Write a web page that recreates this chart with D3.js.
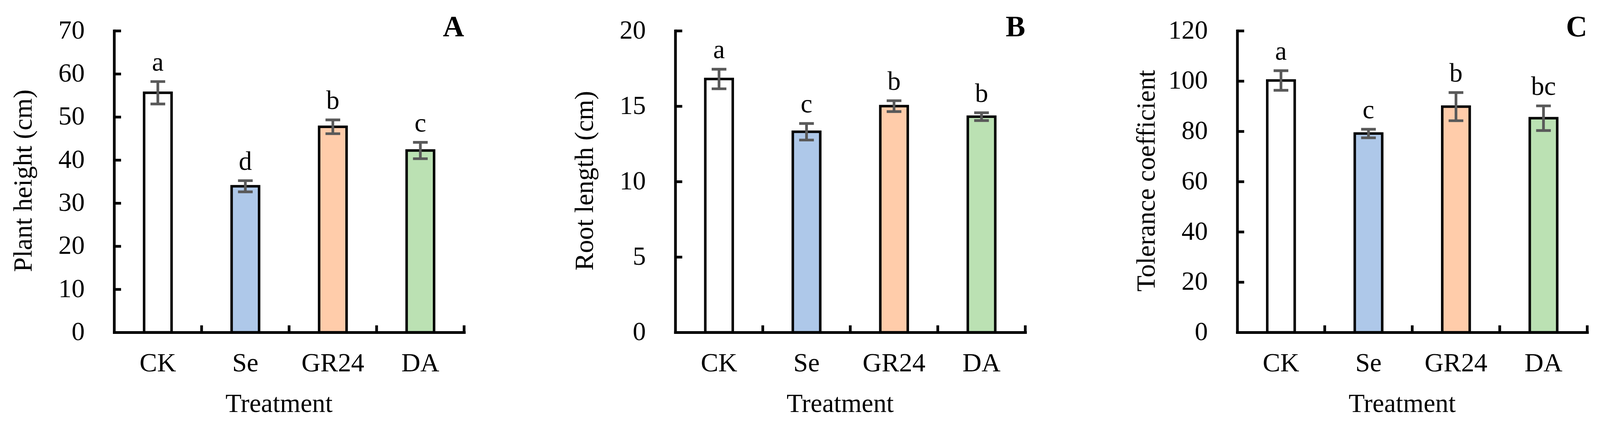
<!DOCTYPE html>
<html>
<head>
<meta charset="utf-8">
<style>
html, body { margin: 0; padding: 0; width: 100%; height: 100%; overflow: hidden; background: #fff; }
svg { display: block; background: #fff; }
text { font-family: "Liberation Serif", "Times New Roman", serif; fill: #000; }
.tick text { font-size: 68px; }
.title { font-size: 68px; }
.sig { font-size: 68px; text-anchor: middle; }
.panel-label { font-size: 76px; font-weight: bold; text-anchor: end; }
.axis path, .axis line { stroke: #000; stroke-width: 7; }
</style>
<script src="https://d3js.org/d3.v7.min.js"></script>
</head>
<body>
<svg viewBox="0 0 4137 1096" width="100%" height="100%" preserveAspectRatio="xMidYMid meet"></svg>
<script>
// treatments
var categories = ["CK", "Se", "GR24", "DA"];
var barColors = ["#ffffff", "#aec8e9", "#ffccaa", "#bbe1b3"];

// A: plant height (cm)
var heightMean = [55.6, 33.9, 47.7, 42.2];
var heightSE = [2.6, 1.3, 1.6, 1.9];
var heightSig = ["a", "d", "b", "c"];
var heightTicks = [0, 10, 20, 30, 40, 50, 60, 70];

// B: root length (cm)
var rootMean = [16.8, 13.3, 15.0, 14.3];
var rootSE = [0.65, 0.55, 0.36, 0.26];
var rootSig = ["a", "c", "b", "b"];
var rootTicks = [0, 5, 10, 15, 20];

// C: tolerance coefficient
var tolMean = [100.2, 79.1, 89.8, 85.2];
var tolSE = [3.9, 1.7, 5.6, 4.9];
var tolSig = ["a", "c", "b", "bc"];
var tolTicks = [0, 20, 40, 60, 80, 100, 120];

var panels = [
  {label: "A", ytitle: "Plant height (cm)", mean: heightMean, se: heightSE, sig: heightSig, ticks: heightTicks, left: 295},
  {label: "B", ytitle: "Root length (cm)", mean: rootMean, se: rootSE, sig: rootSig, ticks: rootTicks, left: 1746},
  {label: "C", ytitle: "Tolerance coefficient", mean: tolMean, se: tolSE, sig: tolSig, ticks: tolTicks, left: 3199}
];

var svg = d3.select("svg");
var plotW = 905, plotTop = 74, plotBottom = 854;
var barW = 71, capW = 38;

panels.forEach(function(p) {
  var g = svg.append("g").attr("transform", "translate(" + p.left + ",0)");

  var x = d3.scaleBand().domain(categories).range([0, plotW]);
  var y = d3.scaleLinear().domain([0, d3.max(p.ticks)]).range([plotBottom, plotTop]);

  var rows = categories.map(function(c, i) {
    return {cat: c, mean: p.mean[i], se: p.se[i], sig: p.sig[i], color: barColors[i]};
  });

  // bars
  g.selectAll(".bar")
    .data(rows)
    .enter().append("rect")
    .attr("class", "bar")
    .attr("x", function(d) { return x(d.cat) + x.bandwidth() / 2 - barW / 2; })
    .attr("y", function(d) { return y(d.mean); })
    .attr("width", barW)
    .attr("height", function(d) { return y(0) - y(d.mean); })
    .attr("fill", function(d) { return d.color; })
    .attr("stroke", "#000")
    .attr("stroke-width", 6.5);

  // error bars
  var err = g.selectAll(".err")
    .data(rows)
    .enter().append("g")
    .attr("class", "err")
    .attr("stroke", "#595959")
    .attr("stroke-width", 7);
  err.append("line")
    .attr("x1", function(d) { return x(d.cat) + x.bandwidth() / 2; })
    .attr("x2", function(d) { return x(d.cat) + x.bandwidth() / 2; })
    .attr("y1", function(d) { return y(d.mean + d.se); })
    .attr("y2", function(d) { return y(d.mean - d.se); });
  [1, -1].forEach(function(s) {
    err.append("line")
      .attr("x1", function(d) { return x(d.cat) + x.bandwidth() / 2 - capW / 2; })
      .attr("x2", function(d) { return x(d.cat) + x.bandwidth() / 2 + capW / 2; })
      .attr("y1", function(d) { return y(d.mean + s * d.se); })
      .attr("y2", function(d) { return y(d.mean + s * d.se); });
  });

  // significance letters
  g.selectAll(".sig")
    .data(rows)
    .enter().append("text")
    .attr("class", "sig")
    .attr("x", function(d) { return x(d.cat) + x.bandwidth() / 2; })
    .attr("y", function(d) { return y(d.mean + d.se) - 28; })
    .text(function(d) { return d.sig; });

  // y axis, ticks pointing inward
  g.append("g")
    .attr("class", "axis")
    .call(d3.axisLeft(y).tickValues(p.ticks).tickSizeInner(-18).tickSizeOuter(0).tickPadding(76))
    .call(function(a) { a.select(".domain").attr("stroke-linecap", "square"); })
    .selectAll("text").attr("dy", "0.29em");

  // x axis with labels under bars
  var xa = g.append("g")
    .attr("class", "axis")
    .attr("transform", "translate(0," + plotBottom + ")")
    .call(d3.axisBottom(x).tickSize(0).tickPadding(53));
  xa.select(".domain").attr("stroke-linecap", "square");
  // separator ticks between categories
  xa.selectAll(".sep")
    .data(categories)
    .enter().append("line")
    .attr("class", "sep")
    .attr("x1", function(d) { return x(d) + x.step(); })
    .attr("x2", function(d) { return x(d) + x.step(); })
    .attr("y1", 0)
    .attr("y2", -18);

  // titles
  g.append("text")
    .attr("class", "title")
    .attr("text-anchor", "middle")
    .attr("x", plotW / 2 - 26)
    .attr("y", 1060)
    .text("Treatment");

  g.append("text")
    .attr("class", "title")
    .attr("text-anchor", "middle")
    .attr("transform", "translate(-213," + ((plotTop + plotBottom) / 2 - 2) + ") rotate(-90)")
    .text(p.ytitle);

  g.append("text")
    .attr("class", "panel-label")
    .attr("x", plotW)
    .attr("y", 88)
    .text(p.label);
});
</script>
</body>
</html>
